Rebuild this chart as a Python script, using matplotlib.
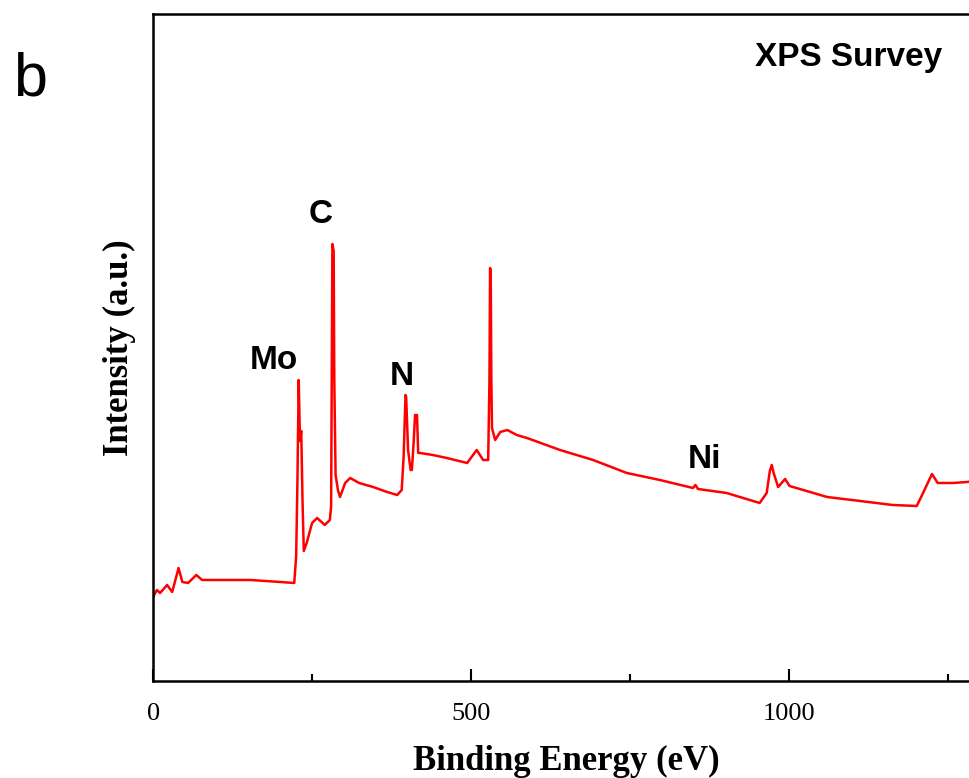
import matplotlib
matplotlib.use("Agg")
import matplotlib.pyplot as plt
from matplotlib.ticker import MultipleLocator

# survey spectrum (binding energy in eV, intensity in a.u.)
energy = [0, 6, 11, 22, 30, 38, 40, 46, 55, 68, 77, 100, 153, 200, 222,
          225, 227, 229, 231, 233, 235, 237, 242, 250, 258, 270, 278, 280,
          282, 284, 285, 287, 291, 294, 302, 310, 324, 346, 368, 384, 391,
          394, 397, 398, 401, 405, 407, 410, 412, 415, 417, 420, 440, 462,
          494, 509, 519, 527, 529, 530, 531, 532, 533, 538, 546, 557, 572,
          588, 640, 692, 745, 797, 849, 853, 857, 902, 954, 965, 970, 973,
          976, 983, 994, 1001, 1060, 1112, 1163, 1201, 1211, 1225, 1234,
          1258, 1280, 1290]
intensity = [84, 91, 88, 96, 89, 108, 113, 99, 98, 106, 101, 101, 101, 99, 98,
             125, 200, 301, 240, 250, 180, 130, 139, 158, 163, 156, 161, 175,
             437, 430, 300, 206, 190, 184, 198, 203, 198, 194, 189, 186, 191,
             224, 286, 284, 231, 211, 211, 241, 266, 266, 228, 228, 226, 223,
             218, 231, 221, 221, 300, 413, 410, 300, 253, 241, 249, 251, 246,
             243, 231, 221, 208, 201, 193, 196, 192, 188, 178, 188, 210, 216,
             208, 194, 202, 195, 184, 180, 176, 175, 188, 207, 198,
             198, 199, 200]

labels = ["C", "Mo", "N", "Ni"]
label_x = [263, 190, 391, 868]
label_y = [466, 320, 304, 221]

fig = plt.figure(figsize=(9.69, 7.78), dpi=100)
ax = fig.add_axes([0.158, 0.1247, 0.853, 0.8573])

ax.plot(energy, intensity, color="#ff0000", lw=1.8)

ax.set_xlim(0, 1300)
ax.set_ylim(0, 667)
ax.xaxis.set_major_locator(MultipleLocator(500))
ax.xaxis.set_minor_locator(MultipleLocator(250))
ax.set_yticks([])
ax.tick_params(axis="x", which="major", direction="in", length=9, width=1.5, pad=16)
ax.tick_params(axis="x", which="minor", direction="in", length=5, width=1.5)
for t in ax.get_xticklabels():
    t.set_fontfamily("Liberation Serif")
    t.set_fontsize(19)
for s in ax.spines.values():
    s.set_linewidth(1.8)

ax.set_xlabel("Binding Energy (eV)", family="Liberation Serif", fontsize=25,
              fontweight="bold", labelpad=14)
ax.set_ylabel("Intensity (a.u.)", family="Liberation Serif", fontsize=25,
              fontweight="bold", labelpad=12)

for lab, x, y in zip(labels, label_x, label_y):
    ax.text(x, y, lab, ha="center", va="center", family="Liberation Sans",
            fontsize=24, fontweight="bold")
ax.text(1094, 624, "XPS Survey", ha="center", va="center", family="Liberation Sans",
        fontsize=24, fontweight="bold")

fig.text(0.031, 0.897, "b", ha="center", va="center", family="Liberation Sans", fontsize=44)

fig.savefig("out.png", dpi=100)
